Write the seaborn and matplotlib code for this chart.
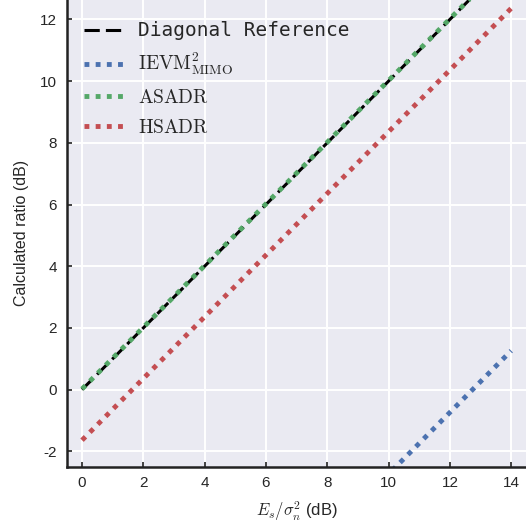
import numpy as np
import matplotlib
matplotlib.use("Agg")
import matplotlib.pyplot as plt
import seaborn as sns

# data (dB)
snr_db = [0, 1, 2, 3, 4, 5, 6, 7, 8, 9, 10, 11, 12, 13, 14]
diagonal = [0, 1, 2, 3, 4, 5, 6, 7, 8, 9, 10, 11, 12, 13, 14]
ievm_mimo = [-12.74, -11.74, -10.74, -9.74, -8.74, -7.74, -6.74, -5.74,
             -4.74, -3.74, -2.74, -1.74, -0.74, 0.26, 1.26]
asadr = [0.02, 1.02, 2.02, 3.02, 4.02, 5.02, 6.02, 7.02, 8.02, 9.02,
         10.02, 11.02, 12.02, 13.02, 14.02]
hsadr = [-1.64, -0.64, 0.36, 1.36, 2.36, 3.36, 4.36, 5.36, 6.36, 7.36,
         8.36, 9.36, 10.36, 11.36, 12.36]

x_ticks = [0, 2, 4, 6, 8, 10, 12, 14]
y_ticks = [-2, 0, 2, 4, 6, 8, 10, 12]

sns.set_theme(style="darkgrid")
plt.rcParams['font.family'] = ['Liberation Sans', 'DejaVu Sans']
plt.rcParams['mathtext.fontset'] = 'cm'
plt.rcParams['axes.unicode_minus'] = False

blue, green, red = "#4C72B0", "#55A868", "#C44E52"
dash = (0, (5, 2))
dot = (0, (1, 1.3))

fig = plt.figure(figsize=(5.26, 5.25), dpi=100)
ax = fig.add_axes([0.1268, 0.111, 0.8742, 0.889])

sns.lineplot(x=snr_db, y=diagonal, ax=ax, color="black", linestyle=dash,
             linewidth=2.2, label="Diagonal Reference")
sns.lineplot(x=snr_db, y=ievm_mimo, ax=ax, color=blue, linestyle=dot,
             linewidth=3.5, label=r"$\mathrm{IEVM}^2_{\mathrm{MIMO}}$")
sns.lineplot(x=snr_db, y=asadr, ax=ax, color=green, linestyle=dot,
             linewidth=3.5, label=r"$\mathrm{ASADR}$")
sns.lineplot(x=snr_db, y=hsadr, ax=ax, color=red, linestyle=dot,
             linewidth=3.5, label=r"$\mathrm{HSADR}$")

ax.set_xlim(-0.5, 14.5)
ax.set_ylim(-2.5, 12.63)
ax.set_xticks(x_ticks)
ax.set_yticks(y_ticks)
ax.grid(color="white", linewidth=1.4)

for side in ["top", "right"]:
    ax.spines[side].set_visible(False)
for side in ["left", "bottom"]:
    ax.spines[side].set_visible(True)
    ax.spines[side].set_color("#222222")
    ax.spines[side].set_linewidth(1.8)
ax.tick_params(axis="both", direction="in", length=3.5, width=1.2,
               color="#222222", labelsize=11, left=True, bottom=True, pad=7)

ax.set_xlabel(r"$E_s/\sigma_n^2$ (dB)", fontsize=12, labelpad=6)
ax.set_ylabel("Calculated ratio (dB)", fontsize=11.5, labelpad=8)

ax.legend(loc="upper left", bbox_to_anchor=(-0.009, 1.0), frameon=False,
          borderaxespad=0.7, labelspacing=0.55,
          prop={'family': 'DejaVu Sans Mono', 'size': 14})

fig.savefig("out.png", dpi=100)
